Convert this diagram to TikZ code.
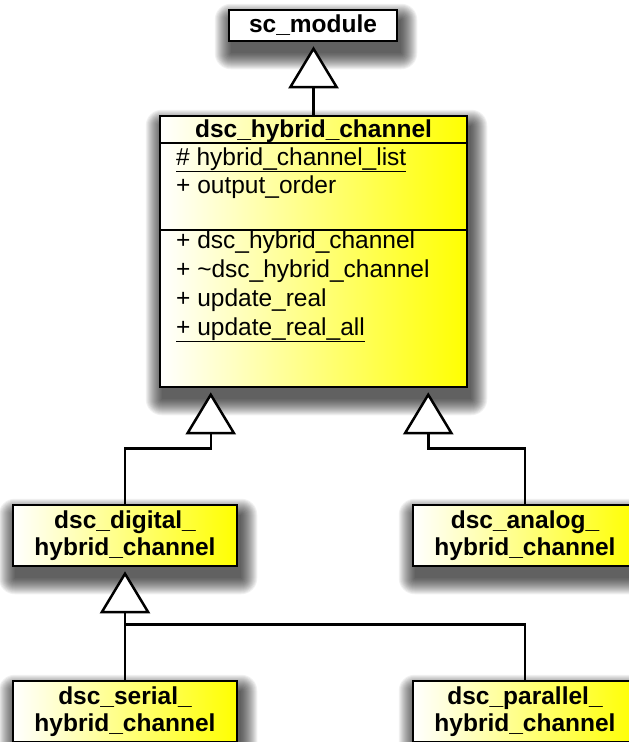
\documentclass[tikz,border=0pt]{standalone}
\usepackage{fontspec}
\setmainfont{Liberation Sans}
\usepackage{tikz}
\usetikzlibrary{arrows.meta, backgrounds, calc}

\tikzset{
  umlbox/.style={draw, line width=2.5pt, inner sep=0pt, align=center},
  yellowbox/.style={left color=white, right color=yellow},
  member/.style={anchor=base west, inner sep=0pt},
  link/.style={line width=2.5pt},
  isa/.style={link, shorten >=4pt, -{Triangle[fill=white, length=42pt, width=50pt]}},
}

\begin{document}
\begin{tikzpicture}[x=1pt, y=-1pt, font=\fontsize{24.5}{27}\selectfont]
  \useasboundingbox (0,0) rectangle (629,742);

  % classes
  \node[umlbox, fill=white, minimum width=168pt, minimum height=31pt]
    (sc) at (313,25.5) {\bfseries sc\_module};
  \node[umlbox, yellowbox, minimum width=307pt, minimum height=271pt]
    (hyb) at (313.5,251.5) {};
  \node[umlbox, yellowbox, minimum width=224pt, minimum height=61pt]
    (digital) at (125,535.5) {\bfseries dsc\_digital\_\\\bfseries hybrid\_channel};
  \node[umlbox, yellowbox, minimum width=224pt, minimum height=61pt]
    (analog) at (525,535.5) {\bfseries dsc\_analog\_\\\bfseries hybrid\_channel};
  \node[umlbox, yellowbox, minimum width=224pt, minimum height=61pt]
    (serial) at (125,711.5) {\bfseries dsc\_serial\_\\\bfseries hybrid\_channel};
  \node[umlbox, yellowbox, minimum width=224pt, minimum height=61pt]
    (parallel) at (525,711.5) {\bfseries dsc\_parallel\_\\\bfseries hybrid\_channel};

  % compartments of dsc_hybrid_channel
  \node[anchor=base, inner sep=0pt] (hybtitle) at (313.5,137) {\bfseries dsc\_hybrid\_channel};
  \draw[link] (hyb.west |- 0,143) -- (hyb.east |- 0,143);
  \draw[link] (hyb.west |- 0,230) -- (hyb.east |- 0,230);
  \node[member] (attr1) at (176,165) {\underline{\# hybrid\_channel\_list}};
  \node[member] (attr2) at (176,193) {+ output\_order};
  \node[member] (op1) at (176,248) {+ dsc\_hybrid\_channel};
  \node[member] (op2) at (176,277) {+ \textasciitilde dsc\_hybrid\_channel};
  \node[member] (op3) at (176,306) {+ update\_real};
  \node[member] (op4) at (176,335) {\underline{+ update\_real\_all}};

  % soft shadows
  \begin{scope}[on background layer]
    \foreach \n in {sc, hyb, digital, analog, serial, parallel} {
      \foreach \i in {0,...,16} {
        \fill[black, opacity=0.055, rounded corners={\i pt}]
          ([shift={(3-\i,11-\i)}]\n.north west) rectangle ([shift={(3+\i,11+\i)}]\n.south east);
      }
    }
  \end{scope}

  % generalisations
  \coordinate (hybL) at ([xshift=52pt]hyb.south west);
  \coordinate (hybR) at ([xshift=-40pt]hyb.south east);
  \coordinate (digJ) at ([yshift=-57pt]digital.south);
  \draw[isa] (hyb.north) -- (hyb.north |- sc.south);
  \draw[isa] (digital.north) |- ([yshift=-60pt]hybL) -- (hybL);
  \draw[isa] (analog.north) |- ([yshift=-60pt]hybR) -- (hybR);
  \draw[isa] (serial.north) -- (digital.south);
  \draw[link] (parallel.north) |- (digJ);

\end{tikzpicture}
\end{document}
